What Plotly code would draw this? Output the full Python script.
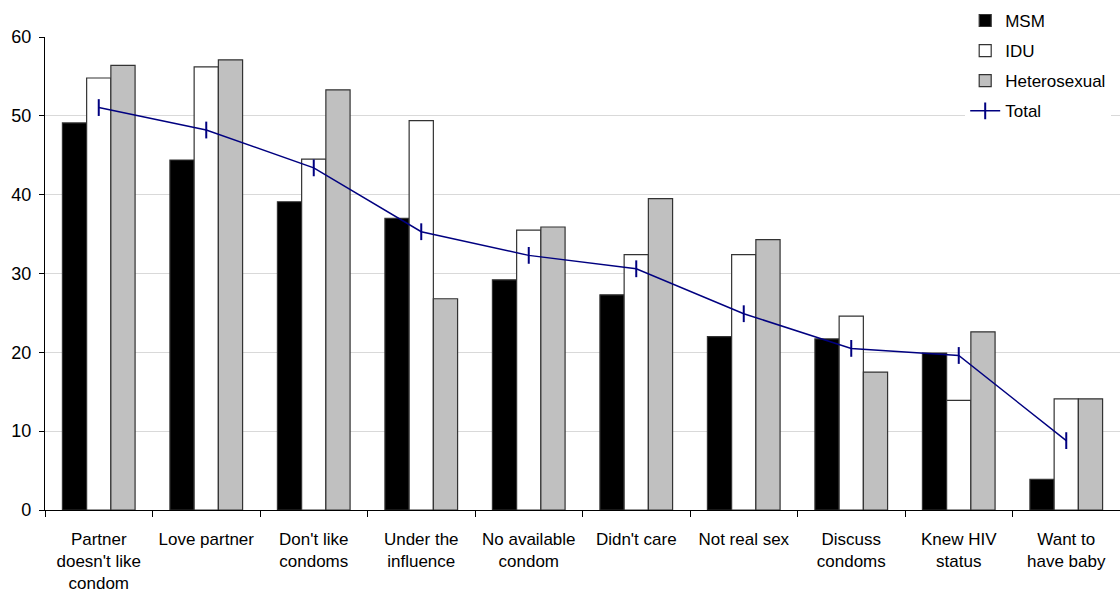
import plotly.graph_objects as go

categories = [
    "Partner<br>doesn't like<br>condom",
    "Love partner",
    "Don't like<br>condoms",
    "Under the<br>influence",
    "No available<br>condom",
    "Didn't care",
    "Not real sex",
    "Discuss<br>condoms",
    "Knew HIV<br>status",
    "Want to<br>have baby",
]
msm = [49.1, 44.4, 39.1, 37.0, 29.2, 27.3, 22.0, 21.7, 19.9, 3.9]
idu = [54.8, 56.2, 44.5, 49.4, 35.5, 32.4, 32.4, 24.6, 13.9, 14.1]
hetero = [56.4, 57.1, 53.3, 26.8, 35.9, 39.5, 34.3, 17.5, 22.6, 14.1]
total = [51.05, 48.2, 43.4, 35.3, 32.3, 30.6, 24.9, 20.5, 19.6, 8.8]
y_ticks = [0, 10, 20, 30, 40, 50, 60]

FONT = "Liberation Sans, Arial, sans-serif"
edge = dict(color="#333333", width=1.2)

fig = go.Figure()
fig.add_trace(go.Bar(name="MSM", x=categories, y=msm,
                     marker=dict(color="#000000", line=edge), legendgroup="a"))
fig.add_trace(go.Bar(name="IDU", x=categories, y=idu,
                     marker=dict(color="#ffffff", line=edge), legendgroup="b"))
fig.add_trace(go.Bar(name="Heterosexual", x=categories, y=hetero,
                     marker=dict(color="#c0c0c0", line=edge), legendgroup="c"))
fig.add_trace(go.Scatter(name="Total", x=categories, y=total, mode="lines+markers",
                         line=dict(color="#000080", width=1.5),
                         marker=dict(symbol="line-ns", size=12,
                                     line=dict(color="#000080", width=2)),
                         legendgroup="d"))

fig.update_layout(
    width=1120, height=594,
    margin=dict(l=45, r=0, t=37, b=84, autoexpand=False),
    paper_bgcolor="white", plot_bgcolor="white",
    font=dict(family=FONT, size=17, color="black"),
    barmode="group", bargap=0.324, bargroupgap=0,
    legend=dict(x=0.856, xanchor="left", y=1.072, yanchor="top",
                bgcolor="white", font=dict(size=17), tracegroupgap=5,
                traceorder="grouped"),
    showlegend=True,
)
fig.update_xaxes(
    type="category", range=[-0.5, 9.5], showline=True, linecolor="black", linewidth=1.2,
    ticks="outside", tickson="boundaries", ticklen=6, tickcolor="black",
    showgrid=False, tickfont=dict(size=17), ticklabelstandoff=13, automargin=False,
)
fig.update_yaxes(
    range=[0, 60], tickvals=y_ticks, showline=True, linecolor="black", linewidth=1.2,
    ticks="outside", ticklen=5, tickcolor="black",
    showgrid=True, gridcolor="#d9d9d9", gridwidth=1, zeroline=False,
    tickfont=dict(size=18), ticklabelstandoff=4, automargin=False,
)

fig.write_html("out.html", config={"displayModeBar": False},
               post_script="document.body.style.margin='0';")
